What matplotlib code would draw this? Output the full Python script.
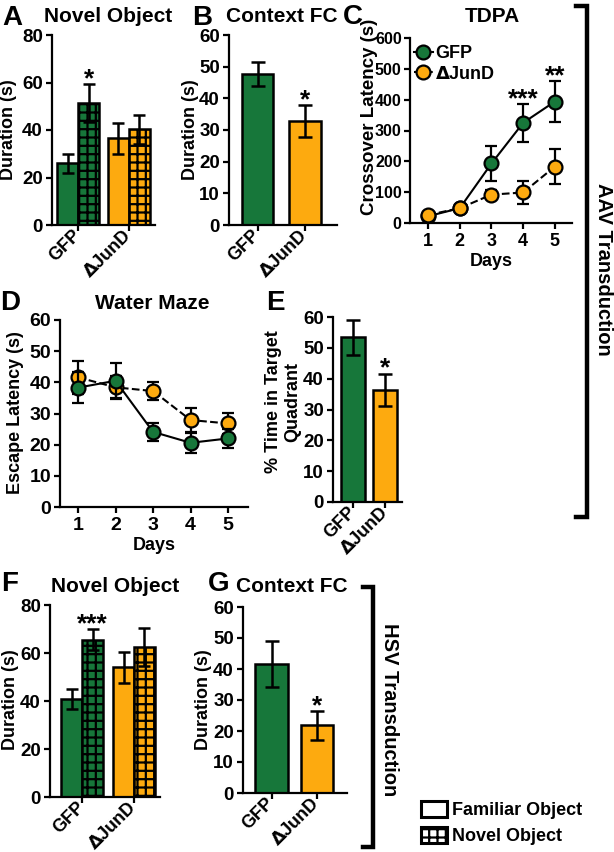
import matplotlib
matplotlib.use('Agg')
import matplotlib.pyplot as plt
from matplotlib.lines import Line2D
from matplotlib.patches import Patch
import numpy as np

plt.rcParams['font.family'] = ['Liberation Sans', 'DejaVu Sans']
plt.rcParams['font.weight'] = 'bold'
plt.rcParams['axes.labelweight'] = 'bold'
plt.rcParams['hatch.linewidth'] = 1.6

# --- data ---
groups = ['GFP', r'$\Delta$JunD']
days = [1, 2, 3, 4, 5]

# A: novel object (AAV)
a_familiar = [26.0, 36.5]
a_familiar_err = [4.0, 6.4]
a_novel = [51.3, 40.3]
a_novel_err = [8.0, 6.0]
a_stars = ['*', '']

# B: context FC (AAV)
b_freeze = [47.7, 32.8]
b_err = [3.7, 5.0]
b_stars = ['', '*']

# C: TDPA crossover latency
c_gfp = [22, 48, 193, 325, 394]
c_gfp_err = [8, 8, 57, 61, 66]
c_jund = [26, 48, 92, 99, 183]
c_jund_err = [10, 8, 14, 38, 57]
c_stars = ['', '', '', '***', '**']

# D: water maze escape latency
d_gfp = [38.3, 40.5, 24.1, 20.6, 22.0]
d_gfp_err = [5.0, 5.7, 2.8, 3.3, 3.0]
d_jund = [41.6, 38.4, 37.2, 27.9, 26.8]
d_jund_err = [5.2, 3.5, 3.0, 3.8, 3.5]

# E: probe trial
e_time = [53.4, 36.3]
e_err = [5.6, 5.3]
e_stars = ['', '*']

# F: novel object (HSV)
f_familiar = [40.8, 54.0]
f_familiar_err = [4.2, 6.6]
f_novel = [65.6, 62.5]
f_novel_err = [4.3, 8.0]
f_stars = ['***', '']

# G: context FC (HSV)
g_freeze = [41.5, 21.8]
g_err = [7.4, 4.6]
g_stars = ['', '*']

GREEN = '#17773a'
ORANGE = '#fdaa0f'
colors = [GREEN, ORANGE]

W, H = 614, 852
fig = plt.figure(figsize=(W / 100, H / 100), dpi=100)


def box(l, r, t, b):
    return [l / W, 1 - b / H, (r - l) / W, (b - t) / H]


def ftext(x, y, s, **kw):
    fig.text(x / W, 1 - y / H, s, ha='center', va='center', **kw)


def style(ax, size=13.5):
    for s in ['top', 'right']:
        ax.spines[s].set_visible(False)
    for s in ['left', 'bottom']:
        ax.spines[s].set_linewidth(1.6)
    ax.tick_params(width=1.6, length=4, labelsize=size)
    ax.tick_params(axis='y', pad=2.5)


def ylab(ax, text, x, y, size=13):
    ax.set_ylabel(text, fontsize=size, va='center', ha='center', multialignment='center')
    ax.yaxis.set_label_coords(x / W, 1 - y / H, transform=fig.transFigure)


def star(ax, x, y, s):
    if s:
        ax.annotate(s, (x, y), xytext=(0, -5), textcoords='offset points',
                    ha='center', va='bottom', fontsize=19)


def group_labels(ax, x):
    ax.set_xticks(x)
    ax.set_xticklabels(groups, rotation=45, ha='right', va='center',
                       rotation_mode='anchor', fontsize=13)
    ax.tick_params(axis='x', pad=1.5)


def simple_bars(ax, vals, errs, stars, width, ylim, step):
    x = np.arange(len(vals))
    ax.bar(x, vals, width, color=colors, edgecolor='black', linewidth=1.8, zorder=2)
    ax.errorbar(x, vals, yerr=errs, fmt='none', ecolor='black', elinewidth=1.8,
                capsize=5, capthick=1.8, zorder=3)
    for xi, v, e, s in zip(x, vals, errs, stars):
        star(ax, xi, v + e, s)
    ax.set_ylim(*ylim)
    ax.set_yticks(np.arange(ylim[0], ylim[1] + 1, step))
    style(ax)
    group_labels(ax, x)


def object_bars(ax, fam, fam_err, nov, nov_err, stars, width):
    x = np.arange(len(fam))
    ax.bar(x - width / 2, fam, width, color=colors, edgecolor='black', linewidth=1.8, zorder=2)
    ax.bar(x + width / 2, nov, width, color=colors, edgecolor='black', linewidth=1.8,
           hatch='++', zorder=2)
    ax.errorbar(x - width / 2, fam, yerr=fam_err, fmt='none', ecolor='black',
                elinewidth=1.8, capsize=4, capthick=1.8, zorder=3)
    ax.errorbar(x + width / 2, nov, yerr=nov_err, fmt='none', ecolor='black',
                elinewidth=1.8, capsize=4, capthick=1.8, zorder=3)
    for xi, v, e, s in zip(x, nov, nov_err, stars):
        star(ax, xi + width / 2, v + e, s)
    ax.set_ylim(0, 80)
    ax.set_yticks([0, 20, 40, 60, 80])
    style(ax)
    group_labels(ax, x)


def line_panel(ax, gfp, gfp_err, jund, jund_err, gfp_top):
    kw = dict(color='black', lw=1.5, marker='o', ms=10, mec='black', mew=1.6,
              ecolor='black', elinewidth=1.6, capsize=4, capthick=1.6)
    z_g, z_j = (3, 4) if not gfp_top else (4, 3)
    ax.errorbar(days, gfp, yerr=gfp_err, mfc=GREEN, ls='-', zorder=z_g, **kw)
    ax.errorbar(days, jund, yerr=jund_err, mfc=ORANGE, ls='--', zorder=z_j, **kw)
    ax.set_xticks(days)


# Panel A
axA = fig.add_axes(box(52, 155, 35, 225))
object_bars(axA, a_familiar, a_familiar_err, a_novel, a_novel_err, a_stars, 0.42)
axA.set_xlim(-0.52, 1.52)
ylab(axA, 'Duration (s)', 9, 130)

# Panel B
axB = fig.add_axes(box(229, 337, 35, 225))
simple_bars(axB, b_freeze, b_err, b_stars, 0.66, (0, 60), 10)
axB.set_xlim(-0.6, 1.67)
ylab(axB, 'Duration (s)', 190, 130)

# Panel C
axC = fig.add_axes(box(410, 572, 38, 223))
line_panel(axC, c_gfp, c_gfp_err, c_jund, c_jund_err, gfp_top=False)
style(axC, size=11.5)
axC.tick_params(axis='y', pad=2)
axC.tick_params(axis='x', labelsize=13)
for d, v, e, s in zip(days, c_gfp, c_gfp_err, c_stars):
    star(axC, d, v + e, s)
axC.set_xlim(0.43, 5.54)
axC.set_ylim(0, 600)
axC.set_yticks(np.arange(0, 601, 100))
axC.set_xlabel('Days', fontsize=13, labelpad=2)
ylab(axC, 'Crossover Latency (s)', 369, 117, size=13.5)
legC = [Line2D([], [], color='black', lw=1.5, ls='-', marker='o', ms=10, mfc=GREEN,
               mec='black', mew=1.6),
        Line2D([], [], color='black', lw=1.5, ls='--', marker='o', ms=10, mfc=ORANGE,
               mec='black', mew=1.6)]
axC.legend(legC, groups, loc='upper left', bbox_to_anchor=(-0.045, 1.02), frameon=False,
           fontsize=13, handlelength=1.1, handletextpad=0.1, labelspacing=0.2,
           borderaxespad=0.2)

# Panel D
axD = fig.add_axes(box(60, 248, 320, 507))
line_panel(axD, d_gfp, d_gfp_err, d_jund, d_jund_err, gfp_top=True)
style(axD, size=14)
axD.set_xlim(0.52, 5.53)
axD.set_ylim(0, 60)
axD.set_yticks(np.arange(0, 61, 10))
axD.set_xlabel('Days', fontsize=13, labelpad=2)
ylab(axD, 'Escape Latency (s)', 16, 413)

# Panel E
axE = fig.add_axes(box(333, 402, 317, 502))
simple_bars(axE, e_time, e_err, e_stars, 0.74, (0, 60), 10)
axE.set_xlim(-0.62, 1.51)
ylab(axE, '% Time in Target\nQuadrant', 283, 402)

# Panel F
axF = fig.add_axes(box(50, 160, 605, 797))
object_bars(axF, f_familiar, f_familiar_err, f_novel, f_novel_err, f_stars, 0.40)
axF.set_xlim(-0.62, 1.5)
ylab(axF, 'Duration (s)', 11, 700)

# Panel G
axG = fig.add_axes(box(243, 347, 607, 793))
simple_bars(axG, g_freeze, g_err, g_stars, 0.725, (0, 60), 10)
axG.set_xlim(-0.63, 1.66)
ylab(axG, 'Duration (s)', 203, 700)

# panel letters and titles
for letter, x, y in [('A', 12, 18), ('B', 202, 18), ('C', 353, 17), ('D', 10, 303),
                     ('E', 275, 303), ('F', 10, 584), ('G', 219, 584)]:
    ftext(x, y, letter, fontsize=20)
for title, x, y in [('Novel Object', 108, 17), ('Context FC', 282, 17), ('TDPA', 492, 16),
                    ('Water Maze', 152, 303), ('Novel Object', 115, 586),
                    ('Context FC', 292, 586)]:
    ftext(x, y, title, fontsize=15)

# brackets
def bracket(x, y0, y1, tick):
    pts_x = [x - tick, x, x, x - tick]
    pts_y = [y0, y0, y1, y1]
    fig.add_artist(Line2D([p / W for p in pts_x], [1 - p / H for p in pts_y],
                          color='black', lw=3.2, solid_joinstyle='miter',
                          transform=fig.transFigure))

bracket(587, 6, 517, 11)
ftext(603, 269, 'AAV Transduction', fontsize=14.5, rotation=-90)
bracket(373, 587, 847, 10)
ftext(390, 710, 'HSV Transduction', fontsize=14.5, rotation=-90)

# familiar / novel legend
handles = [Patch(facecolor='white', edgecolor='black', lw=2.2),
           Patch(facecolor='white', edgecolor='black', lw=2.2, hatch='++')]
fig.legend(handles, ['Familiar Object', 'Novel Object'], loc='lower left',
           bbox_to_anchor=(419 / W, 1 - 847 / H), frameon=False, fontsize=13,
           handlelength=1.45, handleheight=0.95, handletextpad=0.3, labelspacing=0.45,
           borderaxespad=0, borderpad=0.1)

fig.savefig('out.png', dpi=100)
